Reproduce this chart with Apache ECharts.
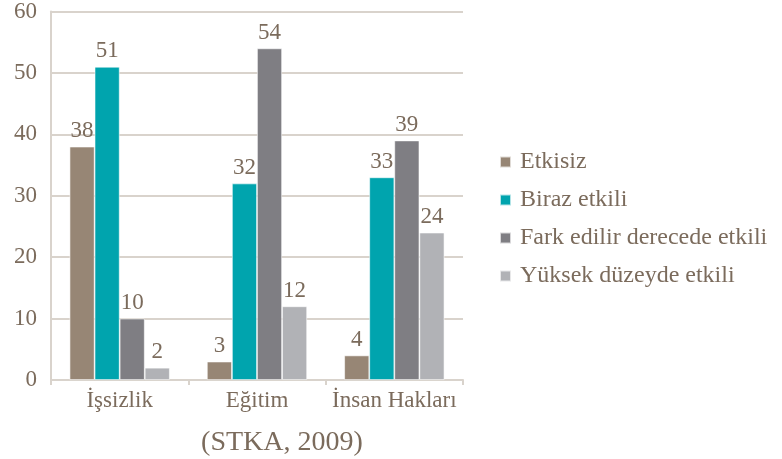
<!DOCTYPE html>
<html>
<head>
<meta charset="utf-8">
<script src="https://cdn.jsdelivr.net/npm/echarts@6/dist/echarts.min.js"></script>
<style>
  html, body { margin: 0; padding: 0; background: #fff; }
  #chart { width: 782px; height: 459px; }
</style>
</head>
<body>
<div id="chart"></div>
<script>
var categories = ["İşsizlik", "Eğitim", "İnsan Hakları"];
var seriesNames = ["Etkisiz", "Biraz etkili", "Fark edilir derecede etkili", "Yüksek düzeyde etkili"];
var etkisiz = [38, 3, 4];
var birazEtkili = [51, 32, 33];
var farkEdilir = [10, 54, 39];
var yuksekDuzey = [2, 12, 24];
var colors = ["#978675", "#00A4AE", "#7F7E83", "#B1B2B6"];
var source = "(STKA, 2009)";

var textColor = "#7b6b5c";
var fontFamily = "'Liberation Serif', 'DejaVu Serif', serif";

var chart = echarts.init(document.getElementById("chart"));

function makeSeries(name, data, color) {
  return {
    name: name,
    type: "bar",
    data: data,
    barGap: "0%",
    barCategoryGap: "27%",
    itemStyle: {
      color: color,
      borderColor: "rgba(255,255,255,0.7)",
      borderWidth: 0.8,
    },
    label: {
      show: true,
      position: "top",
      distance: 4,
      color: textColor,
      fontFamily: fontFamily,
      fontSize: 23,
    },
  };
}

chart.setOption({
  animation: false,
  color: colors,
  title: {
    text: source,
    left: 277,
    top: 424,
    textAlign: "center",
    textStyle: {
      color: textColor,
      fontFamily: fontFamily,
      fontSize: 28,
      fontWeight: "normal",
    },
  },
  legend: {
    orient: "vertical",
    left: 494,
    top: 145,
    itemWidth: 11,
    itemHeight: 11,
    itemGap: 14,
    icon: "rect",
    textStyle: {
      color: textColor,
      fontFamily: fontFamily,
      fontSize: 24,
      lineHeight: 24,
      padding: [0, 0, 0, 4],
    },
    data: seriesNames,
  },
  grid: {
    left: 51,
    right: 319,
    top: 11,
    bottom: 79,
    containLabel: false,
  },
  xAxis: {
    type: "category",
    data: categories,
    axisLine: { lineStyle: { color: "#d9d3cc", width: 2 } },
    axisTick: { show: true, length: 5, lineStyle: { color: "#d9d3cc", width: 2 } },
    axisLabel: {
      interval: 0,
      color: textColor,
      fontFamily: fontFamily,
      fontSize: 23,
      margin: 9,
    },
  },
  yAxis: {
    type: "value",
    min: 0,
    max: 60,
    interval: 10,
    axisLine: { show: true, lineStyle: { color: "#d9d3cc", width: 2 } },
    axisTick: { show: false },
    splitLine: { lineStyle: { color: "#d9d3cc", width: 2 } },
    axisLabel: {
      color: textColor,
      fontFamily: fontFamily,
      fontSize: 23,
      margin: 14,
    },
  },
  series: [
    makeSeries(seriesNames[0], etkisiz, colors[0]),
    makeSeries(seriesNames[1], birazEtkili, colors[1]),
    makeSeries(seriesNames[2], farkEdilir, colors[2]),
    makeSeries(seriesNames[3], yuksekDuzey, colors[3]),
  ],
});
</script>
</body>
</html>
